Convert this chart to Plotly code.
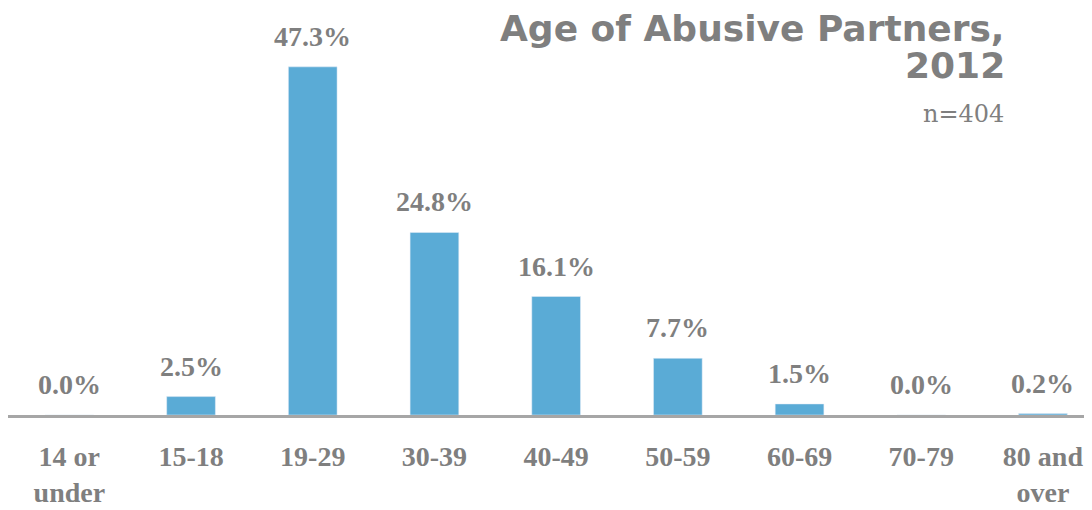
import plotly.graph_objects as go

categories = ["14 or<br>under", "15-18", "19-29", "30-39", "40-49", "50-59", "60-69", "70-79", "80 and<br>over"]
values = [0.0, 2.5, 47.3, 24.8, 16.1, 7.7, 1.5, 0.0, 0.2]
value_labels = ["0.0%", "2.5%", "47.3%", "24.8%", "16.1%", "7.7%", "1.5%", "0.0%", "0.2%"]
title_line1 = "Age of Abusive Partners,"
title_line2 = "2012"
subtitle_text = "n=404"

# page body has an 8px margin, so the figure is drawn from (8, 8)
OFF = 8
W, H = 1092 - OFF, 510 - OFF
ml, mr, mt, mb = 0, 0, 30, 95
gray = "#7f7f7f"
serif = "Liberation Serif, DejaVu Serif, serif"

fig = go.Figure()
fig.add_trace(go.Bar(x=list(range(len(categories))), y=values, marker_color="#5aabd6",
                     width=0.4, hoverinfo="skip"))

for i, (v, t) in enumerate(zip(values, value_labels)):
    fig.add_annotation(x=i, y=v, text="<b>" + t + "</b>", showarrow=False, xref="x", yref="y",
                       yanchor="bottom", yshift=13,
                       font=dict(family=serif, size=28, color=gray))

pw = W - ml - mr
ph = H - mt - mb

def px(pagex):
    return (pagex - OFF - ml) / pw

def py(pagey):
    return 1 + (mt - (pagey - OFF)) / ph

title_font = dict(family="DejaVu Sans, Liberation Sans, sans-serif", size=36, color=gray)
fig.add_annotation(xref="paper", yref="paper", x=px(1007), y=py(6),
                   xanchor="right", yanchor="top", align="right", showarrow=False,
                   text="<b>" + title_line1 + "</b>", font=title_font)
fig.add_annotation(xref="paper", yref="paper", x=px(1007), y=py(43),
                   xanchor="right", yanchor="top", align="right", showarrow=False,
                   text="<b>" + title_line2 + "</b>", font=title_font)
fig.add_annotation(xref="paper", yref="paper", x=px(1006), y=py(98),
                   xanchor="right", yanchor="top", showarrow=False,
                   text=subtitle_text,
                   font=dict(family="DejaVu Serif, Liberation Serif, serif", size=24, color=gray))

fig.update_layout(
    width=W, height=H, margin=dict(l=ml, r=mr, t=mt, b=mb, autoexpand=False),
    plot_bgcolor="white", paper_bgcolor="white", showlegend=False,
    xaxis=dict(tickmode="array", tickvals=list(range(len(categories))),
               ticktext=["<b>" + c + "</b>" for c in categories],
               range=[-0.504, -0.504 + pw / 121.7], showgrid=False, zeroline=False,
               showline=True, linecolor="#a6a6a6", linewidth=3, ticks="",
               automargin=False, ticklabelstandoff=14,
               tickfont=dict(family=serif, size=28, color=gray)),
    yaxis=dict(range=[0, ph / 7.36], visible=False, showgrid=False, zeroline=False,
               automargin=False),
)
fig.write_html("out.html")
